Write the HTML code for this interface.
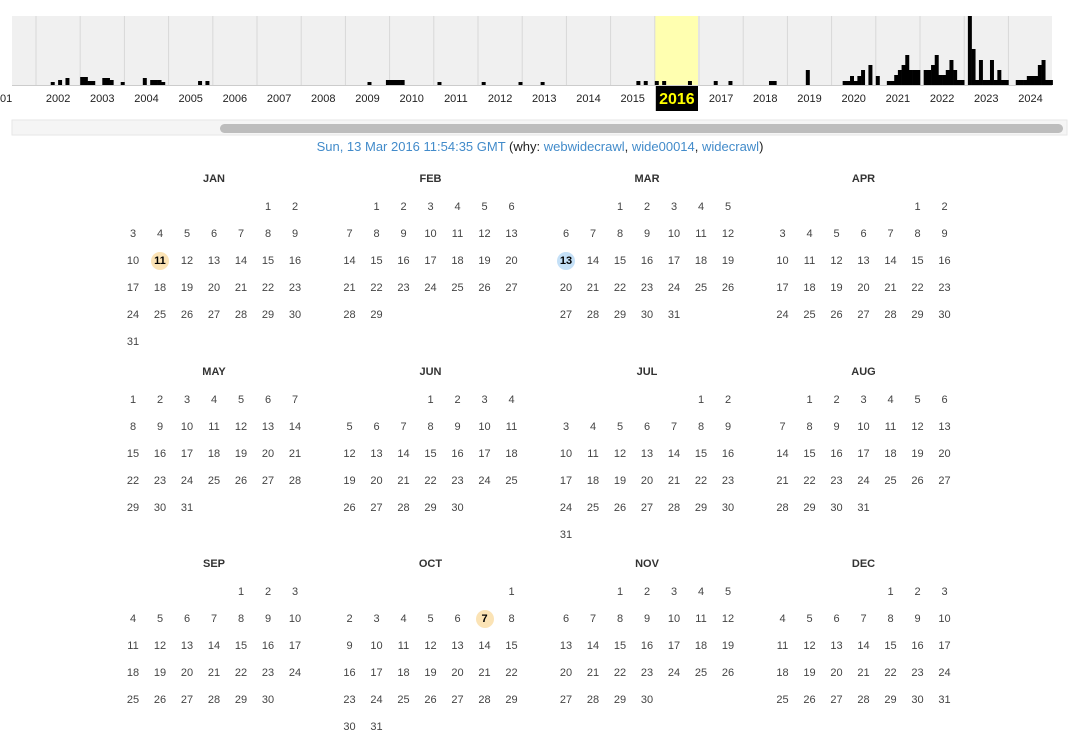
<!DOCTYPE html>
<html><head><meta charset="utf-8">
<style>
body{margin:0;width:1080px;height:744px;background:#fff;font-family:"Liberation Sans",Arial,sans-serif;overflow:hidden;position:relative}
#spark{position:absolute;left:0;top:0}
.info{position:absolute;top:139px;left:0;width:1080px;text-align:center;font-size:13px;color:#222}
.info a{color:#428bca;text-decoration:none}
.mname{position:absolute;font-size:11px;font-weight:bold;color:#333;text-align:center;width:40px}
.day{position:absolute;font-size:11px;color:#444;width:18px;height:18px;line-height:18px;text-align:center;border-radius:50%}
</style></head><body>
<svg id="spark" width="1080" height="140"></svg>
<div class="info"><a href="#">Sun, 13 Mar 2016 11:54:35 GMT</a> (why: <a href="#">webwidecrawl</a>, <a href="#">wide00014</a>, <a href="#">widecrawl</a>)</div>
<div id="cal"></div>
<script>
const years=[2001,2002,2003,2004,2005,2006,2007,2008,2009,2010,2011,2012,2013,2014,2015,2016,2017,2018,2019,2020,2021,2022,2023,2024];
const monthly=[
[0,0,0,0,0,0,0,0,0,0,0,0],
[0,0,0,0,3,0,5,0,7,0,0,0],
[8,8,4,4,0,0,7,7,5,0,0,3],
[0,0,0,0,0,7,0,5,5,5,3,0],
[0,0,0,0,0,0,0,0,4,0,4,0],
[0,0,0,0,0,0,0,0,0,0,0,0],
[0,0,0,0,0,0,0,0,0,0,0,0],
[0,0,0,0,0,0,0,0,0,0,0,0],
[0,0,0,0,0,0,3,0,0,0,0,5],
[5,5,5,5,0,0,0,0,0,0,0,0],
[0,3,0,0,0,0,0,0,0,0,0,0],
[0,3,0,0,0,0,0,0,0,0,0,3],
[0,0,0,0,0,3,0,0,0,0,0,0],
[0,0,0,0,0,0,0,0,0,0,0,0],
[0,0,0,0,0,0,0,4,0,4,0,0],
[4,0,4,0,0,0,0,0,0,4,0,0],
[0,0,0,0,4,0,0,0,4,0,0,0],
[0,0,0,0,0,0,0,4,4,0,0,0],
[0,0,0,0,0,15,0,0,0,0,0,0],
[0,0,0,4,4,9,4,9,15,0,20,0],
[9,0,0,4,4,10,15,20,30,15,15,15],
[0,15,15,20,30,10,10,15,25,15,5,5],
[0,69,36,5,25,5,5,25,5,15,5,5],
[0,0,5,5,5,9,9,9,20,25,5,5]];
const yearLabels=years.map(y=>String(y));
const selectedYear=2016;
const NS="http://www.w3.org/2000/svg";
const svg=document.getElementById('spark');
const X0=12,X1=1052,TOP=16,BOT=85,COLW=44.2,FIRST=36-COLW;
const xYear=i=>FIRST+i*COLW;
const hScale=v=>v*(BOT-TOP)/69;
function mk(t,a){const e=document.createElementNS(NS,t);for(const k in a)e.setAttribute(k,a[k]);svg.appendChild(e);return e;}
let bg=mk('rect',{x:X0,y:TOP,width:X1-X0,height:BOT-TOP,fill:'#f0f0f0'});


years.forEach((y,i)=>{
  const x=xYear(i);
  if(y===selectedYear){
    let hl=mk('rect',{x:x,y:TOP,width:COLW-1,height:BOT-TOP,fill:'#ffffb0'});
    
    
  }
  if(i>0){let l=mk('line',{x1:x,x2:x,y1:TOP,y2:BOT,stroke:'#d8d8d8','stroke-width':1});
    
    }
});
years.forEach((y,i)=>{
  monthly[i].forEach((v,m)=>{
    if(!v)return;
    const w=COLW/12,h=hScale(v);
    let r=mk('rect',{x:Math.max(X0,xYear(i)+m*w),y:BOT-h,width:w+0.3,height:h,fill:'#000'});
    
    
  });
  let cx=xYear(i)+COLW/2;
  if(i===0)cx=0;
  if(y===selectedYear){
    let b=mk('rect',{x:xYear(i)+1,y:86,width:COLW-2,height:25,fill:'#000'});
    
    
    let t=mk('text',{x:cx,y:104,'text-anchor':'middle','font-size':16,'font-weight':'bold',fill:'#ff0','font-family':'Liberation Sans, sans-serif'});
    t.textContent=yearLabels[i];
    
    
  } else {
    let t=mk('text',{x:cx,y:102,'text-anchor':'middle','font-size':11,fill:'#222','font-family':'Liberation Sans, sans-serif'});
    t.textContent=yearLabels[i];
    
    
  }
});
let ax=mk('line',{x1:X0,x2:X1,y1:BOT+0.5,y2:BOT+0.5,stroke:'#ccc'});


let tr=mk('rect',{x:X0,y:120,width:1055,height:15,fill:'#f5f5f5',stroke:'#e6e6e6'});


let th=mk('rect',{x:220,y:124,width:843,height:9,rx:4.5,fill:'#bdbdbd'});



const monthNames=['JAN','FEB','MAR','APR','MAY','JUN','JUL','AUG','SEP','OCT','NOV','DEC'];
const monthDays=[31,29,31,30,31,30,31,31,30,31,30,31];
const highlights={'0-11':'#fbe3b5','2-13':'#c4e0f7','9-7':'#fbe3b5'};
const cal=document.getElementById('cal');
let dow=5;
monthDays.forEach((nd,m)=>{
  const bx=133+(m%4)*216.5, by=180+Math.floor(m/4)*192.5;
  const mn=document.createElement('div');
  mn.className='mname';mn.textContent=monthNames[m];
  mn.style.left=(bx+81-20)+'px';mn.style.top=(by-7)+'px';
  
  
  cal.appendChild(mn);
  let row=0;
  for(let d=1;d<=nd;d++){
    const e=document.createElement('div');
    e.className='day';e.textContent=d;
    e.style.left=(bx+dow*27-9)+'px';e.style.top=(by+27*(row+1)-9)+'px';
    const h=highlights[m+'-'+d];
    if(h){e.style.background=h;e.style.fontWeight='bold';e.style.color='#000';}
    
    
    cal.appendChild(e);
    dow++;if(dow===7){dow=0;row++;}
  }
});
</script>
</body></html>
